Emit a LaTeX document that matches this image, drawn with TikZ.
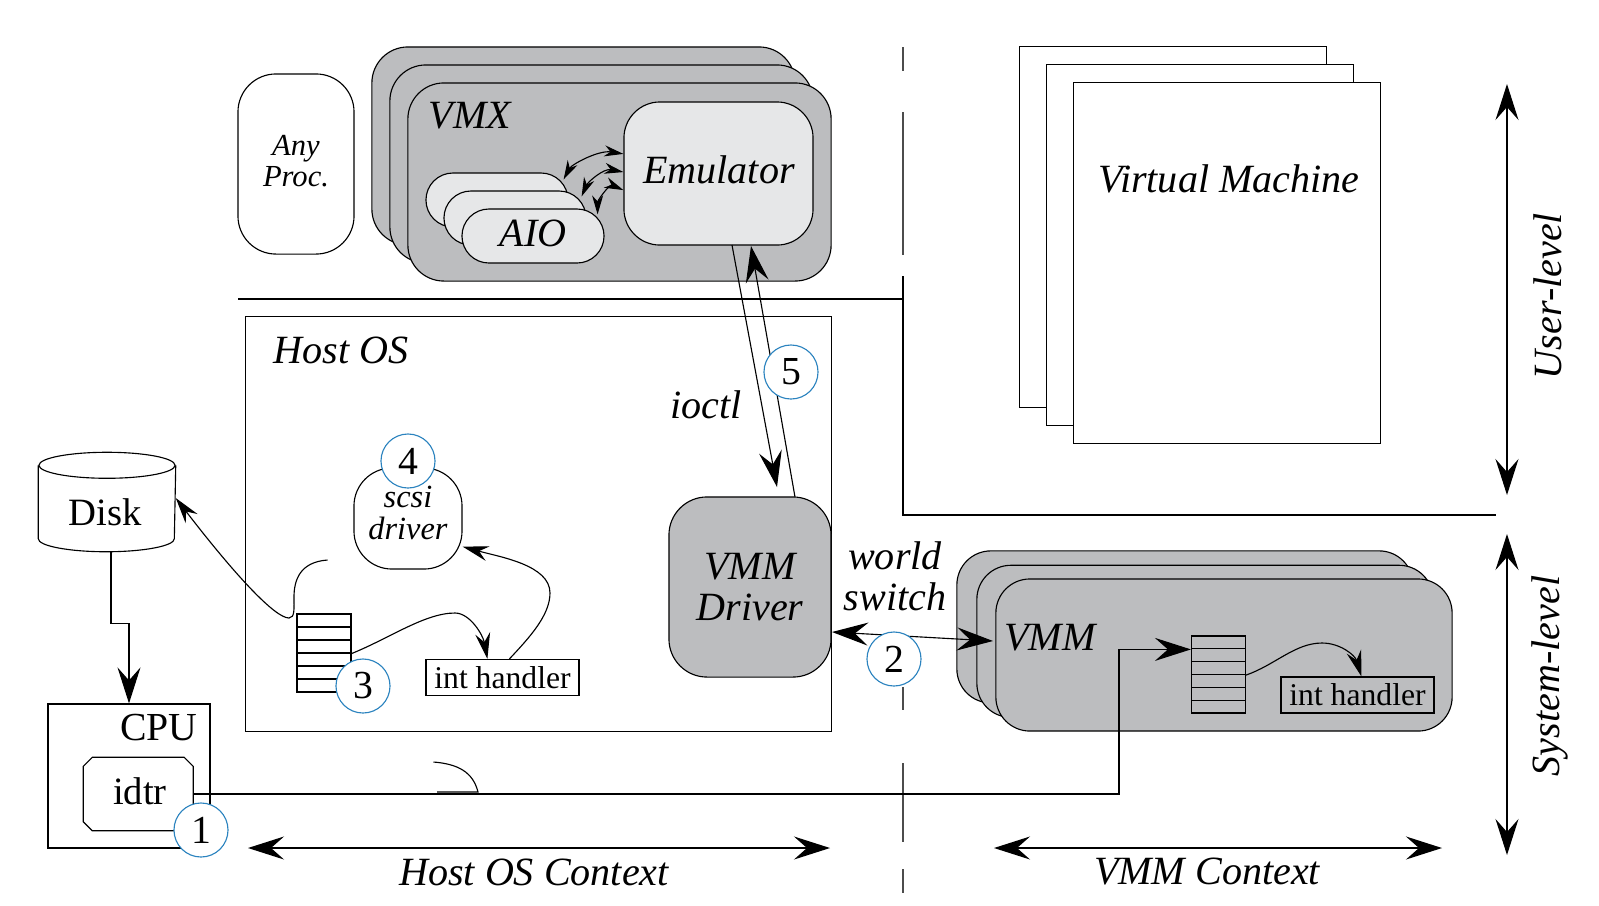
\documentclass[tikz,border=0pt]{standalone}
\usepackage{fontspec}
\setmainfont{Liberation Serif}
\usetikzlibrary{arrows.meta, calc, positioning}
\usetikzlibrary{shapes.geometric}
\definecolor{boxgrey}{HTML}{BCBDBF}
\definecolor{boxlight}{HTML}{E6E7E8}
\definecolor{markblue}{HTML}{2B83BF}
\tikzset{
	bigtip/.tip={Stealth[length=0.36cm,width=0.23cm,inset=0.13cm]},
	midtip/.tip={Stealth[length=0.26cm,width=0.15cm,inset=0.09cm]},
	tinytip/.tip={Stealth[length=0.19cm,width=0.11cm,inset=0.06cm]},
	line/.style={line width=0.32pt},
	vmxbox/.style={line, draw, fill=boxgrey, rounded corners=0.36cm, minimum width=4.23cm, minimum height=1.98cm, inner sep=0pt},
	vmmbox/.style={line, draw, fill=boxgrey, rounded corners=0.34cm, minimum width=4.56cm, minimum height=1.52cm, inner sep=0pt},
	aiobox/.style={line, draw, fill=boxlight, rounded corners=0.27cm, minimum width=1.42cm, minimum height=0.54cm, inner sep=0pt},
	page/.style={line, draw, fill=white, minimum width=3.06cm, minimum height=3.6cm, inner sep=0pt},
	stackrow/.style={line, draw, minimum width=0.54cm, inner sep=0pt},
	handler/.style={line, draw, minimum width=1.53cm, minimum height=0.36cm, inner sep=0pt, font=\fontsize{9}{11}\selectfont},
	stepmark/.style={line, draw=markblue, fill=white, circle, minimum size=0.54cm, inner sep=0pt, font=\fontsize{11.3}{13}\selectfont},
	lab/.style={inner sep=0pt, font=\itshape\fontsize{11.4}{11.7}\selectfont, align=center},
	bigrule/.style={line, draw=black!70},
}
\begin{document}
\begin{tikzpicture}[x=0.01cm, y=-0.01cm]
	\useasboundingbox (0,0) rectangle (1599,905);

	% user level
	\node[line, draw, rounded corners=0.38cm, minimum width=1.16cm, minimum height=1.8cm, inner sep=0pt] (anyproc) at (296,164) {};
	\node[lab, font=\itshape\fontsize{8.7}{8.9}\selectfont] (anylabel) at (296,161) {Any\\Proc.};
	\foreach \n/\d in {vmxc/36, vmxb/18, vmxa/0}
		\node[vmxbox] (\n) at ({619.5-\d},{182-\d}) {};
	\node[lab] (vmxlabel) at (470,116) {VMX};
	\node[line, draw, fill=boxlight, rounded corners=0.36cm, minimum width=1.89cm, minimum height=1.43cm, inner sep=0pt] (emu) at (718.5,173.5) {};
	\node[lab] (emulabel) at (719,170) {Emulator};
	\foreach \n/\d in {aioc/36, aiob/18, aioa/0}
		\node[aiobox] (\n) at ({533-\d},{236-\d}) {};
	\node[lab] (aiolabel) at (533,233) {AIO};
	\foreach \n/\dx/\dy in {1020/0/0, 1047/27/18, 1074/54/36}
		\node[page] (vm\n) at ({1173+\dx},{227+\dy}) {};
	\node[lab] (vmlabel) at (1229,179) {Virtual Machine};

	\draw[line, tinytip-tinytip] ($(aioc.north east)+(-5,7)$) .. controls +(8,-15) and +(-25,-4) .. ($(emu.north west)!0.364!(emu.south west)$);
	\draw[line, tinytip-tinytip] ($(aiob.north east)+(-5,6)$) .. controls +(6,-14) and +(-20,-4) .. ($(emu.north west)!0.49!(emu.south west)$);
	\draw[line, tinytip-tinytip] ($(aioa.north east)+(-7,6)$) .. controls +(0,-14) and +(-14,-6) .. ($(emu.north west)!0.615!(emu.south west)$);

	% context rules
	\draw[bigrule] (903,47) -- (903,71);
	\draw[bigrule] (903,112) -- (903,255);
	\draw[bigrule] (903,687) -- (903,710);
	\draw[bigrule] (903,763) -- (903,842);
	\draw[bigrule] (903,869) -- (903,893);
	\coordinate (ruleleft) at (238,299);
	\coordinate (ruletop) at (903,276);
	\coordinate (rulecorner) at (903,515);
	\coordinate (ruleright) at (1496,515);
	\draw[line] (ruleleft) -- (ruleleft -| ruletop);
	\draw[line] (ruletop) -- (rulecorner) -- (ruleright);

	% host os
	\node[line, draw, minimum width=5.85cm, minimum height=4.14cm, inner sep=0pt] (host) at (538.5,524) {};
	\node[lab] (hostlabel) at (341,350) {Host OS};
	\node[line, draw, fill=boxgrey, rounded corners=0.38cm, minimum width=1.62cm, minimum height=1.8cm, inner sep=0pt, lab] (driver) at (750,587) {VMM\\Driver};
	\node[lab] (ioctl) at (706,405) {ioctl};
	\node[line, draw, rounded corners=0.38cm, minimum width=1.08cm, minimum height=1.01cm, inner sep=0pt] (scsi) at (408,518.5) {};
	\node[lab, font=\itshape\fontsize{9.2}{8.9}\selectfont] (scsilabel) at (408,513) {scsi\\driver};
	\foreach \i in {1,...,6}
		\node[stackrow, minimum height=0.13cm] (hs\i) at (324,{614+13*(\i-0.5)}) {};
	\node[handler] (hostint) at (502.5,677.5) {int handler};

	% disk, cpu
	\node[minimum width=1.36cm, minimum height=0.98cm, inner sep=0pt, font=\fontsize{11}{13}\selectfont, text depth=0.1cm] (disk) at (107,502) {};
	\node[font=\fontsize{11}{13}\selectfont, inner sep=0pt] (disklabel) at (105,512) {Disk};
	\draw[line] ($(disk.north)+(0,13)$) ellipse [x radius=0.68cm, y radius=0.13cm];
	\draw[line] ($(disk.north west)+(0,13)$) -- ($(disk.south west)+(0,-13)$) arc [start angle=180, end angle=360, x radius=0.68cm, y radius=0.13cm] -- ($(disk.north east)+(0,13)$);
	\node[line, draw, minimum width=1.62cm, minimum height=1.44cm, inner sep=0pt] (cpu) at (129,776) {};
	\node[font=\fontsize{11.3}{13}\selectfont, inner sep=0pt] (cpulabel) at (159,728) {CPU};
	\node[minimum width=1.085cm, minimum height=0.72cm, inner sep=0pt] (idtr) at (138.25,794) {};
	\draw[line] ($(idtr.north west)+(9,0)$) -- ($(idtr.north east)+(-9,0)$) -- ($(idtr.north east)+(0,9)$) -- ($(idtr.south east)+(0,-9)$) -- ($(idtr.south east)+(-9,0)$) -- ($(idtr.south west)+(9,0)$) -- ($(idtr.south west)+(0,-9)$) -- ($(idtr.north west)+(0,9)$) -- cycle;
	\node[font=\fontsize{11}{13}\selectfont, inner sep=0pt] (idtrlabel) at (140,791) {idtr};

	% vmm
	\foreach \n/\d in {vmmc/39, vmmb/19, vmma/0}
		\node[vmmbox] (\n) at ({1224-\d},{655-\d*0.72}) {};
	\node[lab] (vmmlabel) at (1050,638) {VMM};
	\foreach \i in {1,...,6}
		\node[stackrow, minimum height=0.1283cm] (vs\i) at (1218.5,{636+12.83*(\i-0.5)}) {};
	\node[handler] (vmmint) at (1357.5,695) {int handler};
	\node[lab] (world) at (895,576) {world\\switch};

	% connectors
	\draw[line, -bigtip] ($(disk.south)+(4,0)$) -- ++(0,72) -| (cpu.north);
	\coordinate (freetail) at (327.5,560);
	\draw[line, -midtip] (freetail) .. controls (300,562) and (294,580) .. (294,597) .. controls (294,608) and (295,618) .. (289,618) .. controls (275,618) and (235,575) .. ($(disk.east)+(0,-4)$);
	\draw[line, -midtip] (hs3.south east) .. controls (390,638) and (425,613) .. (455,613) .. controls (470,613) and (483,635) .. ($(hostint.north west)+(62,0)$);
	\draw[line, -midtip] ($(hostint.north west)+(84,0)$) .. controls (530,637) and (550,615) .. (550,593) .. controls (550,565) and (500,557) .. ($(scsi.south east)+(0,-23)$);
	\draw[line, -midtip] (vs3.south east) .. controls (1275,665) and (1295,643) .. (1322,643) .. controls (1340,643) and (1355,655) .. ($(vmmint.north west)+(81,0)$);

	\coordinate (hopa) at (433.5,762);
	\coordinate (hopb) at (478,792);
	\coordinate (hopc) at (437,792);
	\draw[line] (hopa) .. controls (458,764) and (473,772) .. (hopb) -- (hopc);
	\coordinate (wirebend) at (1119,794);
	\draw[line, -bigtip] (idtr.east) -- (wirebend) |- (vs1.south west);

	\coordinate (emudown) at (732,245);
	\coordinate (drvdown) at (777,487);
	\coordinate (drvup) at (795,497);
	\coordinate (emuup) at (751,246);
	\draw[line, -bigtip] (emudown) -- (drvdown);
	\draw[line, -bigtip] (drvup) -- (emuup);
	\coordinate (switchleft) at (832,632);
	\coordinate (switchright) at (993,641);
	\draw[line, bigtip-bigtip] (switchleft) -- (switchright);

	\coordinate (hostl) at (248,848);
	\coordinate (hostr) at (830,848);
	\coordinate (vmml) at (994,848);
	\coordinate (vmmr) at (1442,848);
	\draw[line, bigtip-bigtip] (hostl) -- (hostr);
	\draw[line, bigtip-bigtip] (vmml) -- (vmmr);
	\node[lab] (hostctx) at (534,872) {Host OS Context};
	\node[lab] (vmmctx) at (1207,872) {VMM Context};

	\coordinate (usert) at (1507,84);
	\coordinate (userb) at (1507,495);
	\coordinate (syst) at (1507,534);
	\coordinate (sysb) at (1507,855);
	\draw[line, bigtip-bigtip] (usert) -- (userb);
	\draw[line, bigtip-bigtip] (syst) -- (sysb);
	\node[lab, rotate=90] (userlabel) at (1548,296) {User-level};
	\node[lab, rotate=90] (syslabel) at (1550,676) {System-level};

	% numbered marks
	\node[stepmark] (m1) at (201,830) {1};
	\node[stepmark] (m2) at (894,659) {2};
	\node[stepmark] (m3) at (363,686) {3};
	\node[stepmark] (m4) at (408,461) {4};
	\node[stepmark] (m5) at (791,372) {5};
\end{tikzpicture}
\end{document}
